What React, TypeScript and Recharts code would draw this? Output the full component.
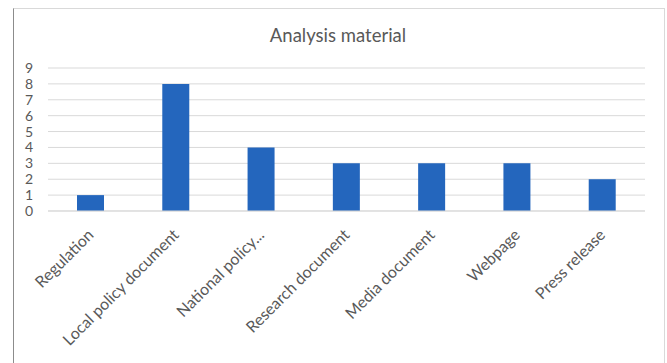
import React from "react";
import { BarChart, Bar, XAxis, YAxis, CartesianGrid } from "recharts";

const categories = [
  "Regulation",
  "Local policy document",
  "National policy...",
  "Research document",
  "Media document",
  "Webpage",
  "Press release",
];
const counts = [1, 8, 4, 3, 3, 3, 2];
const yTicks = [0, 1, 2, 3, 4, 5, 6, 7, 8, 9];

const data = categories.map((name, i) => ({ name, value: counts[i] }));

const FONT = "Lato, 'Open Sans', sans-serif";
const TEXT = "#595959";

const AngledTick = ({ x, y, payload }: any) => (
  <g transform={`translate(${x + 4},${y + 25}) rotate(-45)`}>
    <text x={0} y={0} textAnchor="end" fill={TEXT} fontSize={16} fontFamily={FONT}>
      {payload.value}
    </text>
  </g>
);

export default function App() {
  return (
    <div
      style={{
        position: "absolute",
        left: 0,
        top: 0,
        width: 667,
        height: 363,
        overflow: "hidden",
        background: "#fff",
      }}
    >
      <div
        style={{
          position: "absolute",
          left: 13,
          top: 8,
          width: 650,
          height: 400,
          borderLeft: "1px solid #8c8c8c",
          borderTop: "1px solid #d9d9d9",
          borderRight: "1px solid #d9d9d9",
        }}
      />
      <div
        style={{
          position: "absolute",
          left: 0,
          width: 676,
          top: 24,
          textAlign: "center",
          fontFamily: FONT,
          fontSize: 18.5,
          color: TEXT,
        }}
      >
        Analysis material
      </div>
      <div style={{ position: "absolute", left: 0, top: 0 }}>
        <BarChart
          width={667}
          height={363}
          data={data}
          margin={{ top: 68, right: 22, left: 0, bottom: 12 }}
          barCategoryGap="34%"
        >
          <CartesianGrid vertical={false} stroke="#d9d9d9" />
          <XAxis
            dataKey="name"
            interval={0}
            height={140}
            tickLine={false}
            tickSize={0}
            tickMargin={0}
            axisLine={{ stroke: "#d9d9d9" }}
            tick={<AngledTick />}
          />
          <YAxis
            width={48}
            domain={[0, 9]}
            ticks={yTicks}
            interval={0}
            axisLine={false}
            tickLine={false}
            tickSize={0}
            tickMargin={15}
            tick={{ fill: TEXT, fontSize: 14, fontFamily: FONT }}
          />
          <Bar dataKey="value" fill="#2466bd" isAnimationActive={false} />
        </BarChart>
      </div>
    </div>
  );
}
